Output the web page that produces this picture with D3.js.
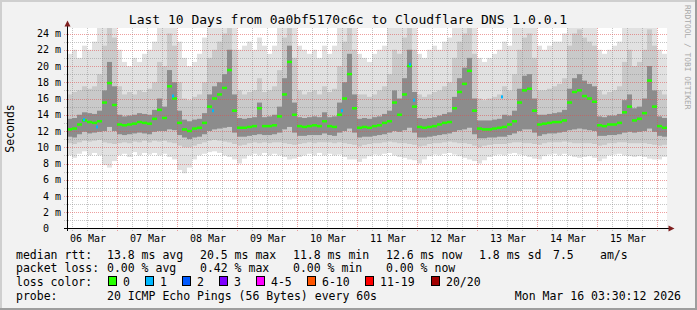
<!DOCTYPE html>
<html>
<head>
<meta charset="utf-8">
<script src="https://cdn.jsdelivr.net/npm/d3@7"></script>
<style>
body { margin: 0; background: #f2f2f2; }
text { font-family: "DejaVu Sans Mono", monospace; fill: #000; }
</style>
</head>
<body>
<div id="chart"></div>
<script>
var svgWidth = 697;
var svgHeight = 310;

// 10 days, one sample every 2 hours (median rtt and smoke percentiles, ms)
var startTime = new Date(Date.UTC(2026, 2, 6, 4, 0, 0));
var endTime = new Date(Date.UTC(2026, 2, 16, 4, 0, 0));
var stepHours = 2;

var median = [
  12.2,12.3,12.8,13.3,13.1,13.0,13.2,15.5,17.9,15.2,
  12.8,12.7,12.8,12.9,13.1,13.0,12.9,13.5,14.6,13.6,
  17.5,16.0,13.0,12.2,12.0,12.3,12.4,13.0,15.0,16.0,
  16.5,17.3,19.5,14.5,12.4,12.4,12.5,12.6,14.8,12.6,
  12.6,12.7,13.8,16.5,20.5,14.0,12.6,12.5,12.6,12.7,
  12.6,13.2,12.6,12.5,14.0,16.0,19.0,14.8,12.4,12.5,
  12.4,12.6,12.7,13.0,13.2,15.5,14.0,16.5,20.0,15.0,
  12.5,12.4,12.5,12.6,12.8,13.0,13.1,14.8,16.8,17.8,
  19.4,14.5,12.3,12.2,12.2,12.3,12.4,12.5,12.8,13.2,
  15.5,17.0,17.2,14.5,12.8,12.9,13.0,13.1,13.1,13.3,
  15.5,16.8,17.0,16.3,16.0,15.6,12.7,12.6,12.8,12.8,
  13.0,14.3,15.0,13.3,13.5,14.2,18.2,15.0,12.6,12.4
];

var smokeMin = [
  9.0,8.7,9.2,9.5,9.0,9.3,9.0,7.8,7.5,8.3,
  9.0,9.2,8.8,9.4,9.0,9.3,9.1,9.3,9.0,9.2,
  8.8,8.5,7.2,6.8,7.5,8.5,9.0,9.2,9.4,9.5,
  9.3,9.0,8.8,8.5,8.0,8.6,9.0,9.2,9.0,9.3,
  9.0,9.2,9.0,8.8,8.5,8.6,8.8,9.0,9.2,9.0,
  9.3,9.0,9.2,9.0,9.1,8.8,8.5,8.5,8.2,8.6,
  8.9,9.1,9.0,9.2,9.3,9.0,8.8,8.7,8.5,8.4,
  8.0,8.5,8.9,9.1,9.0,9.2,9.3,9.1,8.9,8.7,
  8.5,8.3,8.0,8.4,8.8,9.0,9.1,9.0,9.2,9.3,
  9.1,9.0,8.8,8.6,8.5,8.9,9.1,9.2,9.0,9.2,
  9.0,8.8,8.7,8.8,8.9,8.7,8.3,8.6,9.0,9.1,
  9.2,9.0,8.9,8.8,8.9,8.8,8.6,8.5,8.5,8.8
];
var smokeLo = [
  10.5,10.4,10.6,10.8,10.7,10.8,10.9,10.6,10.5,10.4,
  10.5,10.6,10.5,10.7,10.6,10.8,10.6,10.8,10.7,10.8,
  10.6,10.5,10.2,10.0,10.0,10.2,10.4,10.6,10.8,10.9,
  10.8,10.7,10.6,10.4,10.2,10.3,10.5,10.6,10.5,10.6,
  10.5,10.6,10.6,10.5,10.4,10.3,10.4,10.5,10.6,10.5,
  10.6,10.6,10.6,10.5,10.6,10.5,10.4,10.3,10.1,10.3,
  10.4,10.5,10.5,10.6,10.7,10.6,10.5,10.5,10.4,10.3,
  10.1,10.2,10.4,10.5,10.5,10.6,10.7,10.6,10.5,10.5,
  10.4,10.2,10.0,10.2,10.3,10.4,10.4,10.4,10.5,10.6,
  10.6,10.5,10.5,10.4,10.3,10.5,10.6,10.6,10.6,10.7,
  10.6,10.5,10.5,10.5,10.5,10.4,10.2,10.3,10.5,10.5,
  10.6,10.6,10.5,10.5,10.5,10.5,10.4,10.3,10.2,10.3
];
var coreLo = [
  11.3,11.2,11.6,11.9,11.7,11.8,11.9,12.0,12.5,12.0,
  11.6,11.5,11.6,11.7,11.8,11.7,11.6,11.9,12.0,12.0,
  12.2,12.1,11.5,11.2,11.0,11.2,11.3,11.6,12.0,12.2,
  12.3,12.4,12.5,11.8,11.3,11.3,11.4,11.5,11.6,11.5,
  11.5,11.6,11.8,12.2,12.5,11.8,11.4,11.4,11.5,11.5,
  11.5,11.7,11.5,11.4,11.8,12.0,12.3,11.8,11.2,11.3,
  11.3,11.4,11.5,11.6,11.8,12.0,11.9,12.1,12.4,11.8,
  11.2,11.2,11.3,11.4,11.5,11.6,11.7,11.9,12.1,12.2,
  12.4,11.6,11.1,11.1,11.2,11.2,11.3,11.3,11.5,11.7,
  12.0,12.2,12.2,11.8,11.4,11.6,11.7,11.7,11.8,11.9,
  12.1,12.2,12.3,12.2,12.1,12.0,11.4,11.4,11.5,11.5,
  11.6,11.8,11.9,11.8,11.9,12.0,12.3,11.9,11.4,11.3
];
var coreHi = [
  13.5,13.6,14.0,14.3,14.2,14.1,14.5,17.0,20.5,17.5,
  14.0,13.8,13.9,14.0,14.2,14.1,14.0,14.6,16.0,15.0,
  19.5,18.0,14.5,13.4,13.2,13.4,13.5,14.2,16.5,17.5,
  18.0,19.0,22.0,16.5,13.6,13.5,13.6,13.7,15.5,13.7,
  13.8,14.0,15.0,18.5,22.5,15.5,13.7,13.6,13.7,13.8,
  13.7,14.3,13.7,13.8,15.5,18.0,21.5,16.5,13.5,13.6,
  13.5,13.7,13.8,14.1,14.5,17.0,16.0,18.5,22.0,16.8,
  13.6,13.5,13.6,13.7,13.9,14.1,14.3,16.2,18.5,19.8,
  21.0,16.0,13.3,13.3,13.3,13.4,13.5,14.0,13.9,14.5,
  17.2,18.8,19.0,16.0,14.0,14.0,14.1,14.2,14.3,14.6,
  17.2,18.5,19.0,18.2,17.8,17.5,13.8,13.7,13.9,13.9,
  14.1,15.8,16.5,14.8,15.0,16.0,20.0,17.0,13.8,13.6
];
var smokeHi = [
  16.5,16.8,17.0,17.5,17.2,17.5,19.0,22.5,24.8,23.5,
  17.5,16.5,16.8,16.5,17.0,16.8,17.2,18.0,20.5,20.0,
  24.0,22.5,18.0,16.0,15.8,16.2,16.5,18.0,21.0,22.0,
  23.0,24.0,25.0,22.0,17.0,16.5,16.8,17.0,18.5,16.8,
  17.0,17.5,19.5,23.5,25.0,21.0,17.0,16.5,16.8,17.0,
  16.5,17.5,16.8,17.2,20.0,23.0,25.0,22.0,16.5,16.5,
  16.2,16.5,17.0,17.5,19.0,22.0,21.5,23.5,25.0,22.0,
  16.5,16.2,16.5,16.8,17.0,17.5,18.0,21.0,23.0,24.0,
  25.0,21.5,16.0,15.8,16.0,16.2,16.5,17.5,17.0,19.0,
  22.0,23.5,24.0,21.0,17.0,17.0,17.2,17.5,17.8,18.5,
  22.5,24.0,24.5,23.5,23.0,22.5,17.0,16.5,16.8,17.0,
  17.5,20.5,22.0,20.0,20.5,22.0,24.5,22.5,17.0,16.5
];
var smokeMax = [
  21.5,22.0,21.0,22.5,22.0,23.0,24.8,25.0,25.0,25.0,
  22.0,20.5,20.0,21.0,20.5,21.5,22.0,23.0,24.8,24.8,
  25.0,25.0,23.0,21.0,20.0,20.5,21.5,23.5,24.8,25.0,
  25.0,25.0,25.0,25.0,22.0,22.5,23.0,22.0,23.5,22.5,
  21.5,22.5,24.8,25.0,25.0,24.8,22.5,22.0,21.5,22.0,
  21.0,22.5,21.5,22.5,24.8,25.0,25.0,25.0,21.5,21.0,
  20.5,21.5,22.0,22.5,24.8,25.0,25.0,25.0,25.0,25.0,
  21.5,21.0,22.0,22.5,22.0,23.0,23.5,24.8,25.0,25.0,
  25.0,25.0,21.0,20.5,21.0,21.5,22.0,23.0,22.5,24.8,
  25.0,25.0,25.0,25.0,22.5,22.0,22.5,23.0,23.0,24.0,
  25.0,25.0,25.0,25.0,25.0,25.0,22.0,21.5,22.0,22.5,
  23.0,24.8,25.0,25.0,25.0,25.0,25.0,25.0,22.0,21.5
];

// samples with 1 of 20 pings lost (hours after start, ms)
var lossHours = [6.8, 12, 42.4, 58.4, 110, 137.2, 138.8, 174];
var lossMs = [13.4, 12.5, 16.3, 14.5, 14.5, 20.2, 15.8, 16.2];

var dayLabels = ["06 Mar","07 Mar","08 Mar","09 Mar","10 Mar","11 Mar","12 Mar","13 Mar","14 Mar","15 Mar"];
var yTicks = [0,2,4,6,8,10,12,14,16,18,20,22,24];
var yTickLabels = ["0\u00a0\u00a0","2 m","4 m","6 m","8 m","10 m","12 m","14 m","16 m","18 m","20 m","22 m","24 m"];

var lossLabels = ["0","1","2","3","4-5","6-10","11-19","20/20"];
var lossColors = ["#26ff00","#00b8ff","#0059ff","#7e00ff","#ff00ff","#ff5500","#ff0000","#a10000"];
var lossBoxX = [108.5,145.5,182.5,219.5,256.5,307.5,365.5,431.5];

var svg = d3.select("#chart")
    .append("svg")
    .attr("width", svgWidth)
    .attr("height", svgHeight);

// frame
svg.append("rect").attr("width", svgWidth).attr("height", svgHeight).attr("fill", "#f2f2f2");
svg.append("rect").attr("x",0).attr("y",0).attr("width",svgWidth).attr("height",2).attr("fill","#cfcfcf");
svg.append("rect").attr("x",0).attr("y",0).attr("width",2).attr("height",svgHeight).attr("fill","#cfcfcf");
svg.append("rect").attr("x",0).attr("y",svgHeight-2).attr("width",svgWidth).attr("height",2).attr("fill","#9e9e9e");
svg.append("rect").attr("x",svgWidth-2).attr("y",0).attr("width",2).attr("height",svgHeight).attr("fill","#9e9e9e");

var xScale = d3.scaleUtc().domain([startTime, endTime]).range([67, 667]);
var yScale = d3.scaleLinear().domain([0, 200 / 8.125]).range([228.5, 28.5]);

function stepTime(i) {
    return d3.utcHour.offset(startTime, i * stepHours);
}

svg.append("rect")
    .attr("x", 67).attr("y", 28)
    .attr("width", 600).attr("height", 200.5)
    .attr("fill", "#ffffff");

svg.append("clipPath").attr("id", "plotclip")
    .append("rect").attr("x", 67).attr("y", 28).attr("width", 600).attr("height", 200.5);

var smoke = svg.append("g").attr("clip-path", "url(#plotclip)");

var bands = [
    {lo: smokeMin, hi: smokeMax, color: "#e1e1e1"},
    {lo: smokeLo, hi: smokeHi, color: "#c9c9c9"},
    {lo: coreLo, hi: coreHi, color: "#8c8c8c"}
];

bands.forEach(function(b) {
    smoke.append("g").selectAll("rect")
        .data(median)
        .enter()
        .append("rect")
        .attr("x", (d, i) => xScale(stepTime(i)))
        .attr("width", (d, i) => xScale(stepTime(i + 1)) - xScale(stepTime(i)))
        .attr("y", (d, i) => yScale(b.hi[i]))
        .attr("height", (d, i) => yScale(b.lo[i]) - yScale(b.hi[i]))
        .attr("fill", b.color);
});

// grid
var grid = svg.append("g");
var minorY = d3.range(1, 25).filter(v => v % 2 !== 0);
var majorY = yTicks.filter(v => v > 0);
var sixHours = d3.utcHour.every(6).range(startTime, endTime).filter(t => t.getUTCHours() !== 0);
var midnights = d3.utcDay.range(startTime, endTime);

grid.selectAll(".minor-y").data(minorY).enter().append("line")
    .attr("x1", 64).attr("x2", 667)
    .attr("y1", d => Math.round(yScale(d)) + 0.5).attr("y2", d => Math.round(yScale(d)) + 0.5)
    .attr("stroke", "rgba(140,140,140,0.5)").attr("stroke-dasharray", "1,1");
grid.selectAll(".minor-x").data(sixHours).enter().append("line")
    .attr("x1", d => Math.round(xScale(d)) + 0.5).attr("x2", d => Math.round(xScale(d)) + 0.5)
    .attr("y1", 28).attr("y2", 231)
    .attr("stroke", "rgba(140,140,140,0.5)").attr("stroke-dasharray", "1,1");
grid.selectAll(".major-y").data(majorY).enter().append("line")
    .attr("x1", 64).attr("x2", 667)
    .attr("y1", d => Math.round(yScale(d)) + 0.5).attr("y2", d => Math.round(yScale(d)) + 0.5)
    .attr("stroke", "rgba(222,80,80,0.55)").attr("stroke-dasharray", "1,1");
grid.selectAll(".major-x").data(midnights).enter().append("line")
    .attr("x1", d => Math.round(xScale(d)) + 0.5).attr("x2", d => Math.round(xScale(d)) + 0.5)
    .attr("y1", 28).attr("y2", 231)
    .attr("stroke", "rgba(222,80,80,0.55)").attr("stroke-dasharray", "1,1");

// median rtt, coloured by loss
svg.append("g").selectAll("rect")
    .data(median)
    .enter()
    .append("rect")
    .attr("x", (d, i) => xScale(stepTime(i)))
    .attr("width", (d, i) => xScale(stepTime(i + 1)) - xScale(stepTime(i)))
    .attr("y", d => yScale(d) - 1.25)
    .attr("height", 2.5)
    .attr("fill", lossColors[0]);

svg.append("g").selectAll("rect")
    .data(lossHours)
    .enter()
    .append("rect")
    .attr("x", d => xScale(d3.utcMinute.offset(startTime, Math.round(d * 60))) - 1)
    .attr("width", 2)
    .attr("y", (d, i) => yScale(lossMs[i]) - 1.5)
    .attr("height", 3)
    .attr("fill", lossColors[1]);

// axes
svg.append("line").attr("x1", 64).attr("x2", 669).attr("y1", 228.5).attr("y2", 228.5).attr("stroke", "#000");
svg.append("line").attr("x1", 67.5).attr("x2", 67.5).attr("y1", 231).attr("y2", 26).attr("stroke", "#000");
svg.append("path").attr("d", "M64.5,26.5L70.5,26.5L67.5,20.5Z").attr("fill", "#7f1f1f");
svg.append("path").attr("d", "M668.5,225.5L668.5,231.5L674.5,228.5Z").attr("fill", "#7f1f1f");

svg.append("g").selectAll("text")
    .data(yTicks)
    .enter()
    .append("text")
    .attr("x", 61)
    .attr("y", d => yScale(d) + 3.6)
    .attr("text-anchor", "end")
    .attr("font-size", "10px")
    .text((d, i) => yTickLabels[i]);

svg.append("g").selectAll("text")
    .data(dayLabels)
    .enter()
    .append("text")
    .attr("x", (d, i) => xScale(d3.utcHour.offset(d3.utcDay.floor(startTime), 24 * i + 12)) + 1)
    .attr("y", 241.5)
    .attr("text-anchor", "middle")
    .attr("font-size", "10px")
    .text(d => d);

// title and side texts
svg.append("text")
    .attr("x", 348).attr("y", 24)
    .attr("text-anchor", "middle")
    .attr("font-size", "13px")
    .text("Last 10 Days from 0a0bf5170c6c to Cloudflare DNS 1.0.0.1");

svg.append("text")
    .attr("transform", "translate(14,128.5) rotate(-90)")
    .attr("text-anchor", "middle")
    .attr("font-size", "11.5px")
    .text("Seconds");

svg.append("text")
    .attr("transform", "translate(685,5) rotate(90)")
    .attr("font-size", "7.9px")
    .style("fill", "#a8a8a8")
    .text("RRDTOOL / TOBI OETIKER");

// legend
var legend = svg.append("g").attr("font-size", "11.5px");
var legendRows = [
    {y: 258.5, items: [[16, "median rtt:"], [107, "13.8 ms avg"], [200, "20.5 ms max"], [293, "11.8 ms min"], [386, "12.6 ms now"], [479, "1.8 ms sd"], [553, "7.5"], [600, "am/s"]]},
    {y: 272.2, items: [[16, "packet loss:"], [107, "0.00 % avg"], [200, "0.42 % max"], [293, "0.00 % min"], [386, "0.00 % now"]]},
    {y: 285.9, items: [[16, "loss color:"]]},
    {y: 299.6, items: [[16, "probe:"], [107, "20 ICMP Echo Pings (56 Bytes) every 60s"]]}
];
legendRows.forEach(function(row) {
    row.items.forEach(function(it) {
        legend.append("text").attr("x", it[0]).attr("y", row.y).attr("xml:space", "preserve").text(it[1]);
    });
});

legend.selectAll("rect")
    .data(lossLabels)
    .enter()
    .append("rect")
    .attr("x", (d, i) => lossBoxX[i])
    .attr("y", 276.5)
    .attr("width", 8)
    .attr("height", 9)
    .attr("fill", (d, i) => lossColors[i])
    .attr("stroke", "#000");

legend.selectAll(".losslab")
    .data(lossLabels)
    .enter()
    .append("text")
    .attr("x", (d, i) => lossBoxX[i] + 14.5)
    .attr("y", 285.9)
    .text(d => d);

legend.append("text")
    .attr("x", 681).attr("y", 299.6)
    .attr("text-anchor", "end")
    .text("Mon Mar 16 03:30:12 2026");
</script>
</body>
</html>
